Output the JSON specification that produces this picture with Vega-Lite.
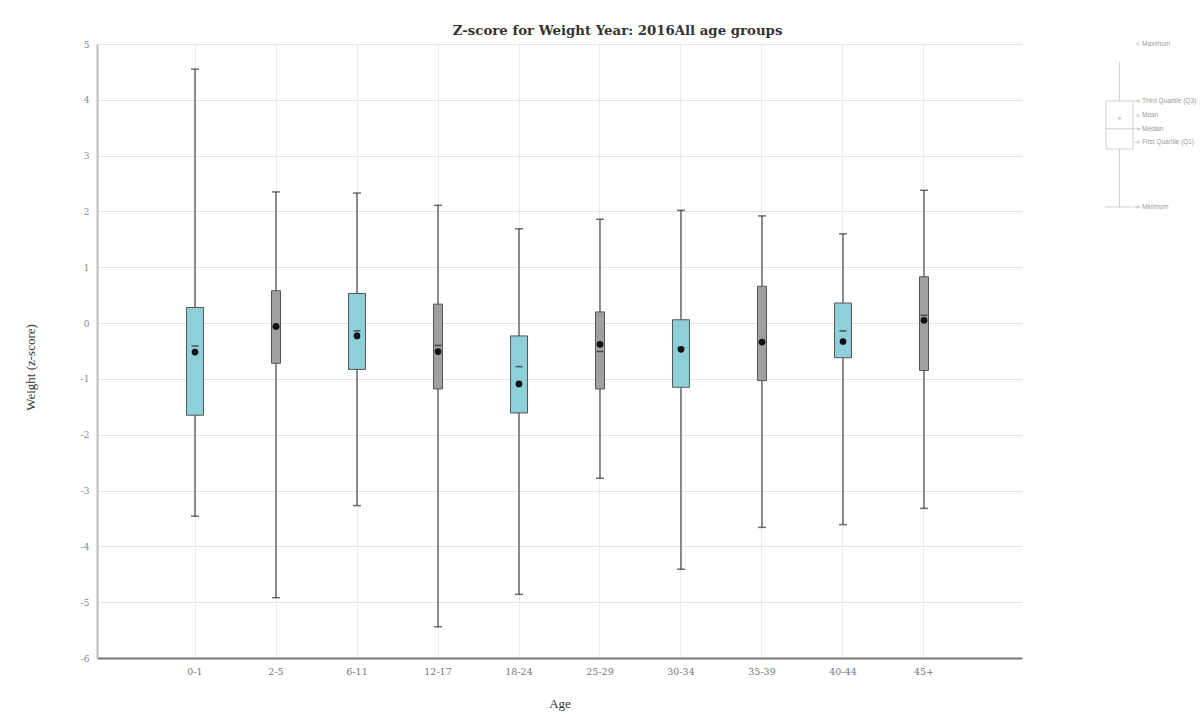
{
  "$schema": "https://vega.github.io/schema/vega-lite/v6.json",
  "autosize": {"type": "none"},
  "padding": {"left": 97, "top": 44, "right": 180, "bottom": 56},
  "width": 925,
  "height": 614,
  "background": "white",
  "title": {"text": "Z-score for Weight Year: 2016All age groups", "font": "DejaVu Serif", "fontSize": 13.3, "fontWeight": "bold", "color": "#333333", "anchor": "middle", "dx": 58, "offset": 3},
  "config": {"view": {"stroke": null}},
  "datasets": {
    "stats": [
      {"age": "0-1", "set": "A", "min": -3.46, "q1": -1.65, "median": -0.41, "mean": -0.52, "q3": 0.28, "max": 4.55},
      {"age": "2-5", "set": "B", "min": -4.92, "q1": -0.72, "median": -0.07, "mean": -0.06, "q3": 0.58, "max": 2.35},
      {"age": "6-11", "set": "A", "min": -3.27, "q1": -0.83, "median": -0.14, "mean": -0.23, "q3": 0.53, "max": 2.33},
      {"age": "12-17", "set": "B", "min": -5.44, "q1": -1.18, "median": -0.40, "mean": -0.51, "q3": 0.34, "max": 2.11},
      {"age": "18-24", "set": "A", "min": -4.86, "q1": -1.61, "median": -0.78, "mean": -1.09, "q3": -0.23, "max": 1.69},
      {"age": "25-29", "set": "B", "min": -2.78, "q1": -1.18, "median": -0.51, "mean": -0.38, "q3": 0.20, "max": 1.86},
      {"age": "30-34", "set": "A", "min": -4.41, "q1": -1.15, "median": -0.45, "mean": -0.47, "q3": 0.06, "max": 2.02},
      {"age": "35-39", "set": "B", "min": -3.66, "q1": -1.03, "median": -0.35, "mean": -0.34, "q3": 0.66, "max": 1.92},
      {"age": "40-44", "set": "A", "min": -3.61, "q1": -0.62, "median": -0.14, "mean": -0.33, "q3": 0.36, "max": 1.60},
      {"age": "45+", "set": "B", "min": -3.32, "q1": -0.85, "median": 0.14, "mean": 0.05, "q3": 0.83, "max": 2.38}
    ],
    "legendbox": [
      {"min": 2.08, "q1": 3.12, "median": 3.48, "mean": 3.67, "q3": 3.98, "max": 4.68}
    ],
    "legendlabels": [
      {"label": "Maximum", "level": 5.0},
      {"label": "Third Quartile (Q3)", "level": 3.98},
      {"label": "Mean", "level": 3.72},
      {"label": "Median", "level": 3.48},
      {"label": "First Quartile (Q1)", "level": 3.24},
      {"label": "Minimum", "level": 2.08}
    ]
  },
  "resolve": {"scale": {"x": "independent", "y": "independent"}, "axis": {"x": "independent", "y": "independent"}},
  "layer": [
    {
      "data": {"name": "stats"},
      "encoding": {
        "x": {
          "field": "age", "type": "nominal", "sort": null,
          "scale": {"type": "band", "paddingInner": 0, "paddingOuter": 0.71},
          "axis": {
            "title": "Age", "labelAngle": 0, "ticks": false, "grid": true, "gridColor": "#ebebeb",
            "domain": true, "domainColor": "#777777", "domainWidth": 2, "labelFont": "DejaVu Serif", "labelFontSize": 9.5,
            "labelColor": "#777777", "labelPadding": 8, "titleFont": "Liberation Serif", "titleFontSize": 13,
            "titleFontWeight": "normal", "titleColor": "#333333", "titlePadding": 22
          }
        }
      },
      "layer": [
        {
          "mark": {"type": "rule", "color": "#444444", "strokeWidth": 1.2},
          "encoding": {
            "y": {
              "field": "min", "type": "quantitative",
              "scale": {"domain": [-6, 5], "nice": false, "zero": false},
              "axis": {
                "title": "Weight (z-score)", "values": [-6, -5, -4, -3, -2, -1, 0, 1, 2, 3, 4, 5],
                "labelExpr": "'' + datum.value",
                "ticks": false, "grid": true, "gridColor": "#e3e3e3",
                "domainColor": "#bbbbbb", "domainWidth": 2,
                "labelFont": "DejaVu Serif", "labelFontSize": 9, "labelColor": "#888888", "labelPadding": 8,
                "titleFont": "Liberation Serif", "titleFontSize": 13, "titleFontWeight": "normal",
                "titleColor": "#333333", "titleX": -60, "titleY": 323
              }
            },
            "y2": {"field": "max"}
          }
        },
        {
          "mark": {"type": "tick", "color": "#333333", "thickness": 1.5, "size": 8},
          "encoding": {"y": {"field": "min", "type": "quantitative"}}
        },
        {
          "mark": {"type": "tick", "color": "#333333", "thickness": 1.5, "size": 8},
          "encoding": {"y": {"field": "max", "type": "quantitative"}}
        },
        {
          "mark": {"type": "bar", "stroke": "#555555", "strokeWidth": 1},
          "encoding": {
            "y": {"field": "q1", "type": "quantitative"},
            "y2": {"field": "q3"},
            "color": {"field": "set", "type": "nominal", "scale": {"domain": ["A", "B"], "range": ["#8fcfda", "#a0a0a0"]}, "legend": null},
            "size": {"field": "set", "type": "ordinal", "scale": {"domain": ["A", "B"], "range": [17, 9]}, "legend": null}
          }
        },
        {
          "mark": {"type": "tick", "color": "#222222", "thickness": 1.5, "size": 7},
          "encoding": {"y": {"field": "median", "type": "quantitative"}}
        },
        {
          "mark": {"type": "point", "filled": true, "color": "#111111", "opacity": 1, "size": 45},
          "encoding": {"y": {"field": "mean", "type": "quantitative"}}
        }
      ]
    },
    {
      "encoding": {
        "y": {"field": "level", "type": "quantitative", "scale": {"domain": [-6, 5], "nice": false, "zero": false}, "axis": null}
      },
      "layer": [
        {
          "data": {"name": "legendbox"},
          "mark": {"type": "rule", "color": "#d0d0d0", "strokeWidth": 1},
          "encoding": {
            "x": {"datum": 19.5, "type": "quantitative", "scale": {"domain": [0, 100], "range": [1003, 1103]}, "axis": null},
            "y": {"field": "min", "type": "quantitative"},
            "y2": {"field": "max"}
          }
        },
        {
          "data": {"name": "legendbox"},
          "mark": {"type": "rect", "fill": "white", "stroke": "#d0d0d0", "strokeWidth": 1},
          "encoding": {
            "x": {"datum": 6, "type": "quantitative"},
            "x2": {"datum": 33},
            "y": {"field": "q1", "type": "quantitative"},
            "y2": {"field": "q3"}
          }
        },
        {
          "data": {"name": "legendbox"},
          "mark": {"type": "rule", "color": "#d0d0d0", "strokeWidth": 1},
          "encoding": {
            "x": {"datum": 6, "type": "quantitative"},
            "x2": {"datum": 33},
            "y": {"field": "median", "type": "quantitative"}
          }
        },
        {
          "data": {"name": "legendbox"},
          "mark": {"type": "rule", "color": "#d0d0d0", "strokeWidth": 1},
          "encoding": {
            "x": {"datum": 5, "type": "quantitative"},
            "x2": {"datum": 32},
            "y": {"field": "min", "type": "quantitative"}
          }
        },
        {
          "data": {"name": "legendbox"},
          "mark": {"type": "point", "filled": true, "color": "#bbbbbb", "size": 10},
          "encoding": {
            "x": {"datum": 19.5, "type": "quantitative"},
            "y": {"field": "mean", "type": "quantitative"}
          }
        },
        {
          "data": {"name": "legendlabels"},
          "transform": [{"filter": "datum.label != 'Maximum' && datum.label != 'Mean'"}],
          "mark": {"type": "rule", "color": "#d8d8d8", "strokeWidth": 1},
          "encoding": {
            "x": {"datum": 33, "type": "quantitative"},
            "x2": {"datum": 41}
          }
        },
        {
          "data": {"name": "legendlabels"},
          "mark": {"type": "point", "shape": "cross", "filled": true, "color": "#cccccc", "size": 14},
          "encoding": {
            "x": {"datum": 38, "type": "quantitative"}
          }
        },
        {
          "data": {"name": "legendlabels"},
          "mark": {"type": "text", "align": "left", "baseline": "middle", "font": "Liberation Sans", "fontSize": 6.5, "color": "#999999"},
          "encoding": {
            "x": {"datum": 42, "type": "quantitative"},
            "text": {"field": "label"}
          }
        }
      ]
    }
  ]
}
